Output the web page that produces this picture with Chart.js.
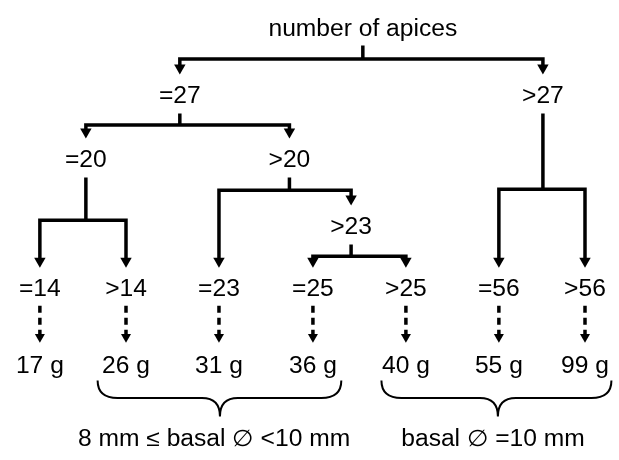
<!DOCTYPE html>
<html>
<head>
<meta charset="utf-8">
<script src="https://cdn.jsdelivr.net/npm/chart.js@4/dist/chart.umd.min.js"></script>
<style>
  html, body { margin: 0; padding: 0; background: #fff; }
  canvas { display: block; }
</style>
</head>
<body>
<canvas id="tree" width="619" height="460"></canvas>
<script>
// tree nodes (x, y = label centre in diagram units)
const nodeLabels = ['number of apices', '=27', '>27', '=20', '>20', '>23',
                    '=14', '>14', '=23', '=25', '>25', '=56', '>56']
const nodeX = [364, 177, 548, 81, 289, 352, 34, 122, 217, 313, 408, 503, 591]
const nodeY = [22, 91, 91, 157, 157, 226, 290, 290, 290, 290, 290, 290, 290]

// splits: parent node, y of the horizontal bar, the two children
const splitParent = [0, 1, 3, 4, 5, 2]
const splitBarY = [54, 122, 220, 189, 257, 188]
const splitChildren = [[1, 2], [3, 4], [6, 7], [8, 5], [9, 10], [11, 12]]

// leaves -> weights
const leafNodes = [6, 7, 8, 9, 10, 11, 12]
const weights = ['17 g', '26 g', '31 g', '36 g', '40 g', '55 g', '99 g']
const weightY = 369

// brackets under weights
const braceLabels = ['8 mm \u2264 basal \u2205 <10 mm', 'basal \u2205 =10 mm']
const braceFrom = [93, 383]
const braceTo = [342, 618]
const braceTip = [218, 502]
const braceLabelX = [212, 497]

const black = '#000'

function buildDatasets(){
    let sets = []
    let arrows = []
    for(let i = 0; i < splitParent.length; i++){
        let p = splitParent[i]
        let bar = splitBarY[i]
        let a = splitChildren[i][0], b = splitChildren[i][1]
        // stub from parent label down to bar
        sets.push({
            data: [{x: nodeX[p], y: p == 0 ? 40 : nodeY[p] + 19}, {x: nodeX[p], y: bar}],
            showLine: true, borderColor: black, borderWidth: 3.5, pointRadius: 0
        })
        let endA = nodeY[a] - 29, endB = nodeY[b] - 29
        sets.push({
            data: [{x: nodeX[a], y: endA}, {x: nodeX[a], y: bar},
                   {x: nodeX[b], y: bar}, {x: nodeX[b], y: endB}],
            showLine: true, borderColor: black, borderWidth: 3.5, pointRadius: 0,
            borderJoinStyle: 'miter', borderCapStyle: 'butt'
        })
        arrows.push({x: nodeX[a], y: endA + 1}, {x: nodeX[b], y: endB + 1})
    }
    let dashArrows = []
    for(let i = 0; i < leafNodes.length; i++){
        let n = leafNodes[i]
        sets.push({
            data: [{x: nodeX[n], y: nodeY[n] + 18}, {x: nodeX[n], y: weightY - 30}],
            showLine: true, borderColor: black, borderWidth: 3.5, pointRadius: 0,
            borderDash: [7, 5]
        })
        dashArrows.push({x: nodeX[n], y: weightY - 29})
    }
    sets.push({
        data: arrows, showLine: false, pointStyle: 'triangle', pointRotation: 180,
        pointRadius: 6.6, pointBackgroundColor: black, pointBorderWidth: 0
    })
    sets.push({
        data: dashArrows, showLine: false, pointStyle: 'triangle', pointRotation: 180,
        pointRadius: 5.8, pointBackgroundColor: black, pointBorderWidth: 0
    })
    return sets
}

// text in the picture is a bit wider than plain Arial
function drawText(ctx, s, x, y){
    ctx.save()
    ctx.translate(x, y + 8)
    ctx.scale(1.07, 1)
    ctx.fillText(s, 0, 0)
    ctx.restore()
}

const labelPlugin = {
    id: 'labels',
    afterDatasetsDraw(chart){
        const ctx = chart.ctx
        const xs = chart.scales.x, ys = chart.scales.y
        ctx.save()
        ctx.fillStyle = black
        ctx.font = '23px "Liberation Sans", Arial, sans-serif'
        ctx.textAlign = 'center'
        ctx.textBaseline = 'alphabetic'
        for(let i = 0; i < nodeLabels.length; i++)
            drawText(ctx, nodeLabels[i], xs.getPixelForValue(nodeX[i]), ys.getPixelForValue(nodeY[i]))
        for(let i = 0; i < weights.length; i++)
            drawText(ctx, weights[i], xs.getPixelForValue(nodeX[leafNodes[i]]), ys.getPixelForValue(weightY))

        // curly brackets
        ctx.strokeStyle = black
        ctx.lineWidth = 2
        const top = ys.getPixelForValue(385), mid = ys.getPixelForValue(403), bot = ys.getPixelForValue(422)
        for(let i = 0; i < braceFrom.length; i++){
            let x1 = xs.getPixelForValue(braceFrom[i])
            let x2 = xs.getPixelForValue(braceTo[i])
            let cx = xs.getPixelForValue(braceTip[i])
            ctx.beginPath()
            ctx.moveTo(x1, top)
            ctx.quadraticCurveTo(x1, mid, x1 + 20, mid)
            ctx.lineTo(cx - 18, mid)
            ctx.quadraticCurveTo(cx, mid, cx, bot)
            ctx.quadraticCurveTo(cx, mid, cx + 18, mid)
            ctx.lineTo(x2 - 20, mid)
            ctx.quadraticCurveTo(x2, mid, x2, top)
            ctx.stroke()
            drawText(ctx, braceLabels[i], xs.getPixelForValue(braceLabelX[i]), ys.getPixelForValue(444))
        }
        ctx.restore()
    }
}

new Chart(document.getElementById('tree').getContext('2d'), {
    type: 'scatter',
    data: { datasets: buildDatasets() },
    options: {
        responsive: false,
        animation: false,
        devicePixelRatio: 1,
        layout: { padding: 0 },
        plugins: { legend: { display: false }, tooltip: { enabled: false } },
        scales: {
            x: { type: 'linear', min: 0, max: 619, display: false },
            y: { type: 'linear', min: 0, max: 460, reverse: true, display: false }
        }
    },
    plugins: [labelPlugin]
})
</script>
</body>
</html>
